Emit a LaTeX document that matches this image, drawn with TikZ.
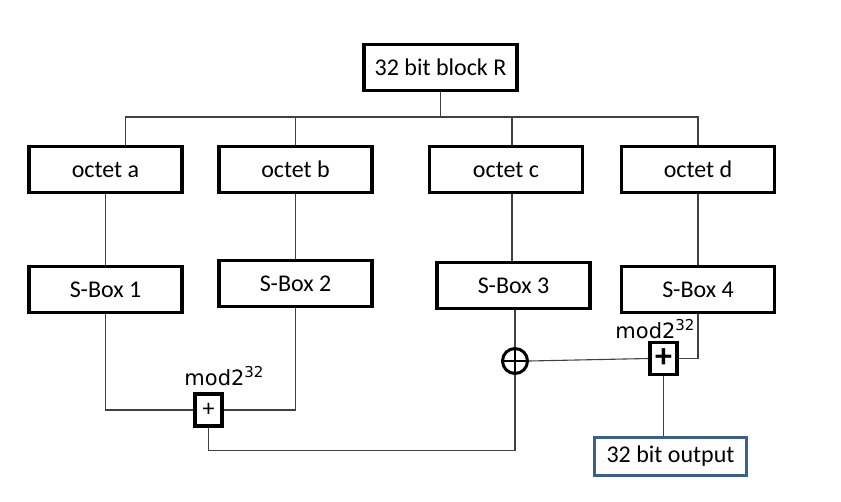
\documentclass[tikz,border=0pt]{standalone}
\usepackage{fontspec}
\setmainfont{Carlito}
\newfontfamily\modfont{DejaVu Sans}
\usetikzlibrary{positioning}
\definecolor{outblue}{HTML}{3D5F8C}

\begin{document}
\begin{tikzpicture}[x=1pt, y=-1pt]
    \tikzstyle{block} = [shape=rectangle, draw=black, line width=3.4pt, minimum width=153pt, minimum height=46pt, inner sep=0pt, font=\fontsize{24}{28}\selectfont];
    \tikzstyle{adder} = [shape=rectangle, draw=black, line width=3.4pt, minimum width=27pt, minimum height=32pt, inner sep=0pt];
    \tikzstyle{wire} = [draw=black!75, line width=1.1pt];
    \tikzstyle{modlabel} = [font=\modfont\fontsize{21}{24}\selectfont, inner sep=0pt];

    \useasboundingbox (0,0) rectangle (841,501);

    \node[block](R) at (440.5,67.5) {32 bit block R};

    \node[block](octa) at (105.5,169.5) {octet a};
    \node[block](octb) at (295.5,169.5) {octet b};
    \node[block](octc) at (506,169.5) {octet c};
    \node[block](octd) at (698,169.5) {octet d};

    \node[block](sbox1) at (105.5,289.5) {S-Box 1};
    \node[block](sbox2) at (295.5,283.5) {S-Box 2};
    \node[block](sbox3) at (513.5,285.5) {S-Box 3};
    \node[block](sbox4) at (698,289.5) {S-Box 4};

    \node[adder, font=\fontsize{24}{26}\selectfont](add1) at (208.5,410) {+};
    \node[adder, font=\fontsize{34}{36}\selectfont\bfseries](add2) at (663.5,358.5) {+};
    \node[shape=circle, draw=black, line width=3pt, minimum size=25pt, inner sep=0pt](xor) at (515,361) {};
    \draw[line width=2.8pt] (xor.north) -- (xor.south) (xor.west) -- (xor.east);

    \node[modlabel, anchor=base](mod1) at (224,385) {mod2\raisebox{8pt}{\fontsize{15}{16}\selectfont 32}};
    \node[modlabel, anchor=base](mod2) at (655,338) {mod2\raisebox{8pt}{\fontsize{15}{16}\selectfont 32}};

    \node[block, draw=outblue, minimum width=152pt, minimum height=38pt](out) at (670.5,456.5) {32 bit output};

    % fan out of R
    \coordinate (bus) at (440.5,117);
    \draw[wire] (R.south) -- (bus);
    \draw[wire] (bus) -| ([xshift=20pt]octa.north);
    \draw[wire] (bus) -| (octb.north);
    \draw[wire] (bus) -| ([xshift=6pt]octc.north);
    \draw[wire] (bus) -| (octd.north);

    % octets into S-boxes
    \draw[wire] (octa.south) -- (octa.south |- sbox1.north);
    \draw[wire] (octb.south) -- (octb.south |- sbox2.north);
    \draw[wire] ([xshift=6pt]octc.south) -- ([xshift=6pt]octc.south |- sbox3.north);
    \draw[wire] (octd.south) -- (octd.south |- sbox4.north);

    % combining
    \draw[wire] (sbox1.south) |- (add1.west);
    \draw[wire] (sbox2.south) |- (add1.east);
    \draw[wire] (add1.south) -- ++(0,23) -| (xor.south);
    \draw[wire] (xor.north |- sbox3.south) -- (xor.north);
    \draw[wire] (xor.east) -- (add2.west);
    \draw[wire] (sbox4.south) |- (add2.east);
    \draw[wire] (add2.south) -- (add2.south |- out.north);
\end{tikzpicture}
\end{document}
